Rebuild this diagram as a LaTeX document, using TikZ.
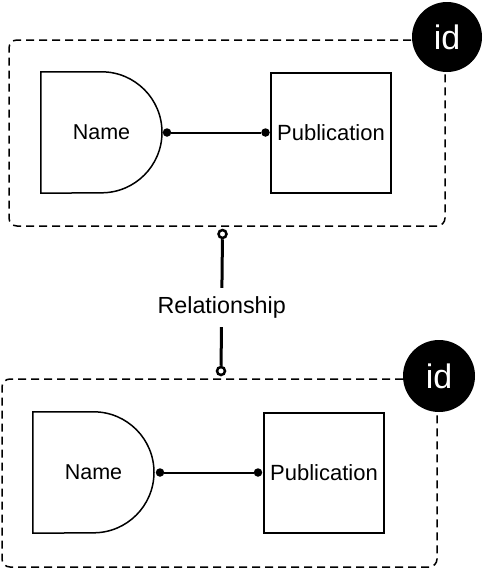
\documentclass[tikz,border=0pt]{standalone}
\usepackage{fontspec}
\setmainfont{Liberation Sans}
\begin{document}
\begin{tikzpicture}[x=1pt,y=1pt,
  container/.style={draw, dashed, dash pattern=on 8pt off 5pt, line width=1.5pt, rounded corners=8pt, inner sep=0pt},
  shapebox/.style={inner sep=0pt, minimum width=121pt, minimum height=121pt, font=\fontsize{21.5}{24}\selectfont},
  pubbox/.style={draw, line width=1.5pt, inner sep=0pt, minimum width=120pt, minimum height=120pt, font=\fontsize{22}{24}\selectfont},
  dotend/.style={circle, fill=black, inner sep=0pt, minimum size=8.5pt},
  opencirc/.style={circle, draw, fill=white, line width=2.5pt, inner sep=0pt, minimum size=8pt},
  idcirc/.style={circle, fill=black, text=white, inner sep=0pt, font=\fontsize{34}{38}\selectfont},
  link/.style={line width=2pt},
  rel/.style={line width=3pt}
]
\useasboundingbox (0,0) rectangle (483,-568);

% top group
\node[container, minimum width=436pt, minimum height=186pt] (c1) at (227,-133) {};
\node[shapebox] (n1) at (101.5,-132.5) {Name};
\draw[line width=1.5pt] (n1.north west) -- (n1.north) arc[start angle=90, end angle=-90, radius=60.5pt] -- (n1.south west) -- cycle;
\node[pubbox] (p1) at (331,-133) {Publication};
\node[dotend] (d1a) at (167,-132.5) {};
\node[dotend] (d1b) at (265.5,-132.5) {};
\draw[link] (d1a) -- (d1b);
\node[idcirc, minimum size=70pt] (id1) at (447,-37) {id};

% bottom group
\node[container, minimum width=435pt, minimum height=188pt] (c2) at (219.5,-473) {};
\node[shapebox] (n2) at (93.5,-472.5) {Name};
\draw[line width=1.5pt] (n2.north west) -- (n2.north) arc[start angle=90, end angle=-90, radius=60.5pt] -- (n2.south west) -- cycle;
\node[pubbox] (p2) at (324,-473) {Publication};
\node[dotend] (d2a) at (160,-472.5) {};
\node[dotend] (d2b) at (258,-472.5) {};
\draw[link] (d2a) -- (d2b);
\node[idcirc, minimum size=72pt] (id2) at (439,-376) {id};

% relationship
\node[opencirc] (r1) at (222.5,-234) {};
\node[opencirc] (r2) at (221,-371) {};
\draw[rel] (r1) -- (r2) node[pos=0.54, fill=white, inner xsep=2pt, inner ysep=9pt, font=\fontsize{23.3}{26}\selectfont] (lbl) {Relationship};
\end{tikzpicture}
\end{document}
